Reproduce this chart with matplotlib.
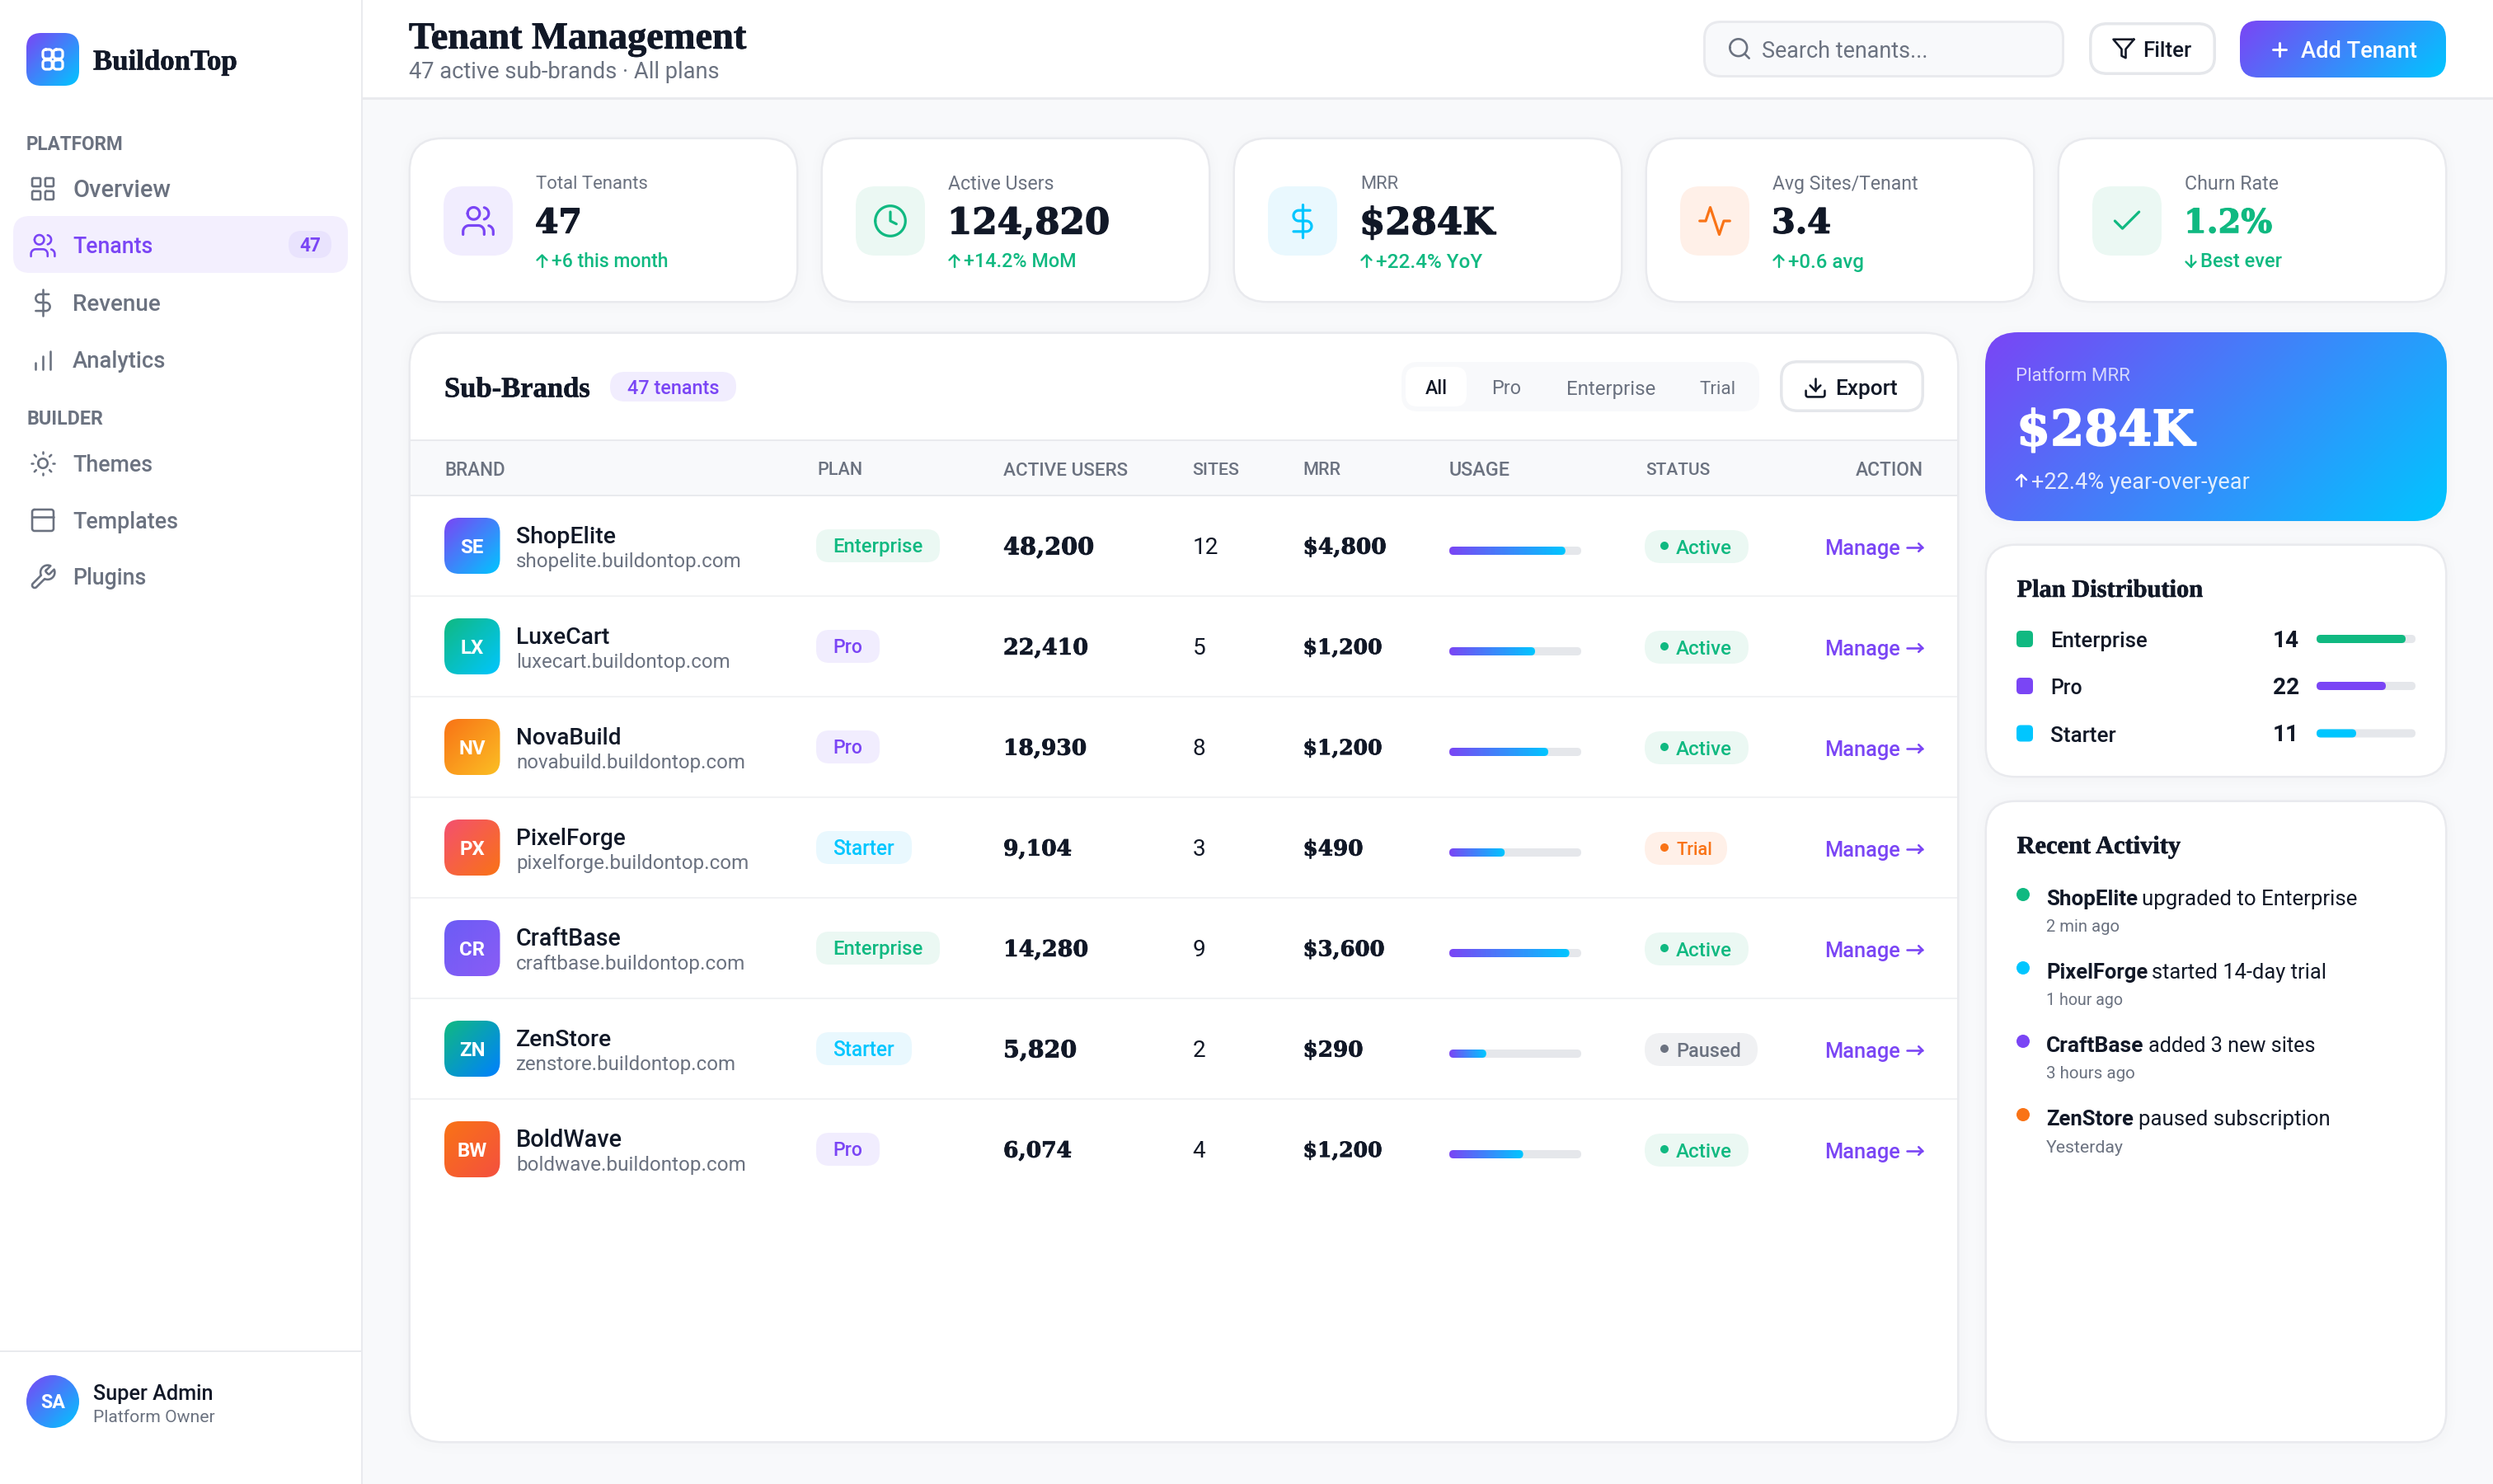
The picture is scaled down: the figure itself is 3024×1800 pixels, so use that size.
import re
import numpy as np
import matplotlib
matplotlib.use("Agg")
import matplotlib.pyplot as plt
import matplotlib.patheffects as pe
from matplotlib.patches import FancyBboxPatch, Rectangle, Circle, PathPatch
from matplotlib.path import Path
from matplotlib.colors import to_rgb

# ---------- data ----------
nav_platform = ["Overview", "Tenants", "Revenue", "Analytics"]
nav_builder = ["Themes", "Templates", "Plugins"]
kpi_labels = ["Total Tenants", "Active Users", "MRR", "Avg Sites/Tenant", "Churn Rate"]
kpi_values = ["47", "124,820", "$284K", "3.4", "1.2%"]
kpi_deltas = ["+6 this month", "+14.2% MoM", "+22.4% YoY", "+0.6 avg", "Best ever"]
kpi_delta_up = [True, True, True, True, False]
table_columns = ["BRAND", "PLAN", "ACTIVE USERS", "SITES", "MRR", "USAGE", "STATUS", "ACTION"]
filter_tabs = ["All", "Pro", "Enterprise", "Trial"]
brands = ["ShopElite", "LuxeCart", "NovaBuild", "PixelForge", "CraftBase", "ZenStore", "BoldWave"]
initials = ["SE", "LX", "NV", "PX", "CR", "ZN", "BW"]
domains = ["shopelite.buildontop.com", "luxecart.buildontop.com", "novabuild.buildontop.com",
           "pixelforge.buildontop.com", "craftbase.buildontop.com", "zenstore.buildontop.com",
           "boldwave.buildontop.com"]
plans = ["Enterprise", "Pro", "Pro", "Starter", "Enterprise", "Starter", "Pro"]
active_users = ["48,200", "22,410", "18,930", "9,104", "14,280", "5,820", "6,074"]
sites = [12, 5, 8, 3, 9, 2, 4]
mrr = ["$4,800", "$1,200", "$1,200", "$490", "$3,600", "$290", "$1,200"]
usage_pct = [88, 65, 75, 42, 91, 28, 56]
statuses = ["Active", "Active", "Active", "Trial", "Active", "Paused", "Active"]
plan_names = ["Enterprise", "Pro", "Starter"]
plan_counts = [14, 22, 11]
plan_fill_pct = [90, 70, 40]
activity_brands = ["ShopElite", "PixelForge", "CraftBase", "ZenStore"]
activity_texts = ["upgraded to Enterprise", "started 14-day trial", "added 3 new sites", "paused subscription"]
activity_times = ["2 min ago", "1 hour ago", "3 hours ago", "Yesterday"]

# ---------- styles ----------
SANS = "Roboto"
HEAD = "Liberation Serif"
NUM = "DejaVu Serif"
CAP = {SANS: .711, HEAD: .655, NUM: .729}
HEAVY = {HEAD: .018, NUM: .03}
INK = "#111827"; GRAY = "#6b7280"; LINE = "#e5e7eb"; BORDER = "#e9eaee"; BG = "#f8f9fb"
PURPLE = "#7a45f5"; CYAN = "#00c6ff"; GREEN = "#10b981"; ORANGE = "#f97316"
PLAN_STYLE = {"Enterprise": ("#ebf8f3", GREEN), "Pro": ("#f1edfe", PURPLE), "Starter": ("#e9f8fe", CYAN)}
STATUS_STYLE = {"Active": ("#ebf8f3", GREEN), "Trial": ("#fff0e8", ORANGE), "Paused": ("#f0f1f3", GRAY)}
AVATAR = [(PURPLE, CYAN), (GREEN, CYAN), (ORANGE, "#fbbf24"), ("#f4506f", ORANGE),
          ("#6c5cf5", "#8a5cf6"), (GREEN, "#0080ff"), (ORANGE, "#f4503f")]
TW = {  # measured text widths in the reference, px
    "BuildonTop": 175, "Tenant Management": 410, "47 active sub-brands · All plans": 375,
    "PLATFORM": 118, "BUILDER": 93, "Overview": 119, "Tenants": 97, "Revenue": 107, "Analytics": 113,
    "Themes": 97, "Templates": 128, "Plugins": 89, "Super Admin": 146, "Platform Owner": 148,
    "Search tenants...": 201, "Filter": 59, "Add Tenant": 141, "Sub-Brands": 177, "47 tenants": 111,
    "All": 27, "Export": 76, "BRAND": 74, "PLAN": 55, "ACTIVE USERS": 151, "SITES": 57, "MRR": 46,
    "USAGE": 74, "STATUS": 78, "ACTION": 82,
    "ShopElite": 120.5, "LuxeCart": 113.5, "NovaBuild": 127.6, "PixelForge": 132.6, "CraftBase": 127.6,
    "ZenStore": 116, "BoldWave": 129,
    "shopelite.buildontop.com": 274, "luxecart.buildontop.com": 259, "novabuild.buildontop.com": 278,
    "pixelforge.buildontop.com": 282.5, "craftbase.buildontop.com": 279, "zenstore.buildontop.com": 267,
    "boldwave.buildontop.com": 279,
    "Enterprise": 109, "Pro": 36, "Starter": 75, "Trial": 44, "Active": 68, "Paused": 79, "Manage": 92,
    "48,200": 110, "22,410": 103, "18,930": 101, "9,104": 83, "14,280": 103, "5,820": 89, "6,074": 83,
    "$4,800": 101, "$1,200": 96, "$490": 73, "$3,600": 99, "$290": 73,
    "Total Tenants": 136, "Active Users": 129, "Avg Sites/Tenant": 176, "Churn Rate": 114,
    "47": 57, "124,820": 197, "$284K": 164, "3.4": 72, "1.2%": 107,
    "+6 this month": 141, "+14.2% MoM": 137, "+22.4% YoY": 129, "+0.6 avg": 92, "Best ever": 99,
    "Platform MRR": 139, "+22.4% year-over-year": 265, "Plan Distribution": 226, "Recent Activity": 198.5,
    "upgraded to Enterprise": 262, "started 14-day trial": 212.7, "added 3 new sites": 203,
    "paused subscription": 231.6, "2 min ago": 89.5, "1 hour ago": 93.6, "3 hours ago": 108, "Yesterday": 94,
}
ACT_BOLD_W = {"ShopElite": 111, "PixelForge": 123, "CraftBase": 118.5, "ZenStore": 106}
STATUS_PILL_W = {"Active": 126, "Trial": 100, "Paused": 137}

# ---------- canvas ----------
W, H = 3024, 1800
fig = plt.figure(figsize=(W / 100, H / 100), dpi=100, facecolor=BG)
ax = fig.add_axes([0, 0, 1, 1])
ax.set_xlim(0, W); ax.set_ylim(H, 0); ax.axis("off"); ax.autoscale(False)
renderer = fig.canvas.get_renderer()
_z = [2]
def nz():
    _z[0] += 1
    return _z[0]

def T(x, yc, s, px=28, font=SANS, weight=400, color=INK, ha="left", alpha=1, w="auto"):
    t = ax.text(x, yc, s, fontsize=px * .72, family=font, weight=weight, color=color, ha=ha,
                va="baseline", alpha=alpha, zorder=nz())
    tw = TW.get(s) if w == "auto" else w
    if tw:
        px = px * tw / t.get_window_extent(renderer).width
        t.set_fontsize(px * .72)
    t.set_y(yc + CAP[font] / 2 * px)
    if font in HEAVY:
        t.set_path_effects([pe.withStroke(linewidth=HEAVY[font] * px * .72, foreground=color)])
    return t

def RR(x, y, w, h, r, fc="white", ec="none", lw=0):
    inset = lw / 2
    p = FancyBboxPatch((x + inset, y + inset), w - lw, h - lw,
                       boxstyle=f"round,pad=0,rounding_size={r}", fc=fc, ec=ec, lw=lw * .72, zorder=nz())
    ax.add_patch(p)
    return p

def shadow(x, y, w, h, r):
    for k in (10, 6, 3):
        RR(x - k, y - k + 2, w + 2 * k, h + 2 * k, r + k, fc=(0.1, 0.1, 0.2, 0.005))

def card(x, y, w, h, r):
    x -= 1.5; y -= 1.5; w += 3; h += 3
    shadow(x, y, w, h, r)
    return RR(x, y, w, h, r, fc="white", ec=BORDER, lw=2.5)

def grad(patch, x, y, w, h, c0, c1, angle=135):
    n = 160
    xs, ys = np.meshgrid(np.linspace(0, w, int(max(2, min(n, w)))), np.linspace(0, h, int(max(2, min(n, h)))))
    a = np.deg2rad(angle)
    dx, dy = np.sin(a), -np.cos(a)
    L = abs(w * dx) + abs(h * dy)
    t = np.clip(((xs - w / 2) * dx + (ys - h / 2) * dy) / L + .5, 0, 1)[..., None]
    img = (1 - t) * np.array(to_rgb(c0)) + t * np.array(to_rgb(c1))
    im = ax.imshow(img, extent=(x, x + w, y + h, y), origin="upper", aspect="auto",
                   interpolation="bilinear", zorder=nz())
    im.set_clip_path(patch)
    return im

def GR(x, y, w, h, r, c0=PURPLE, c1=CYAN, angle=135):
    p = RR(x, y, w, h, r, fc="none")
    grad(p, x, y, w, h, c0, c1, angle)

def rect(x, y, w, h, fc):
    ax.add_patch(Rectangle((x, y), w, h, fc=fc, lw=0, zorder=nz()))

def dot(x, y, r, fc):
    ax.add_patch(Circle((x, y), r, fc=fc, lw=0, zorder=nz()))

# ---------- icons (24-unit glyph paths) ----------
def arc_pts(x1, y1, rx, ry, large, sweep, x2, y2):
    if (x1, y1) == (x2, y2):
        return []
    dx, dy = (x1 - x2) / 2, (y1 - y2) / 2
    lam = dx ** 2 / rx ** 2 + dy ** 2 / ry ** 2
    if lam > 1:
        rx *= lam ** .5; ry *= lam ** .5
    num = max(0, rx ** 2 * ry ** 2 - rx ** 2 * dy ** 2 - ry ** 2 * dx ** 2)
    co = (num / (rx ** 2 * dy ** 2 + ry ** 2 * dx ** 2)) ** .5
    if large == sweep:
        co = -co
    cxp, cyp = co * rx * dy / ry, -co * ry * dx / rx
    cx, cy = cxp + (x1 + x2) / 2, cyp + (y1 + y2) / 2
    t1 = np.arctan2((dy - cyp) / ry, (dx - cxp) / rx)
    t2 = np.arctan2((-dy - cyp) / ry, (-dx - cxp) / rx)
    d = t2 - t1
    if sweep and d < 0:
        d += 2 * np.pi
    if not sweep and d > 0:
        d -= 2 * np.pi
    ts = t1 + d * np.linspace(0, 1, 24)[1:]
    return list(zip(cx + rx * np.cos(ts), cy + ry * np.sin(ts)))

def parse(d):
    toks = re.findall(r"[MmLlHhVvAaZz]|-?\d*\.?\d+", d)
    subs, cur, i, cmd = [], [], 0, None
    x = y = 0.0
    while i < len(toks):
        if toks[i].isalpha():
            cmd = toks[i]; i += 1
            if cmd in "Zz":
                cur.append(cur[0]); x, y = cur[-1]
                continue
        rel = cmd.islower(); c = cmd.upper()
        if c in "ML":
            nx, ny = float(toks[i]), float(toks[i + 1]); i += 2
            if rel: nx += x; ny += y
            if c == "M":
                if cur: subs.append(cur)
                cur = [(nx, ny)]; cmd = "l" if rel else "L"
            else:
                cur.append((nx, ny))
            x, y = nx, ny
        elif c == "H":
            nx = float(toks[i]); i += 1
            x = nx + x if rel else nx; cur.append((x, y))
        elif c == "V":
            ny = float(toks[i]); i += 1
            y = ny + y if rel else ny; cur.append((x, y))
        elif c == "A":
            rx, ry, _, la, sw, nx, ny = [float(v) for v in toks[i:i + 7]]; i += 7
            if rel: nx += x; ny += y
            cur += arc_pts(x, y, rx, ry, int(la), int(sw), nx, ny)
            x, y = nx, ny
    if cur:
        subs.append(cur)
    return subs

def circ(cx, cy, r):
    return f"M {cx-r} {cy} A {r} {r} 0 1 0 {cx+r} {cy} A {r} {r} 0 1 0 {cx-r} {cy} "

def rrect(x, y, w, h, r):
    return (f"M {x+r} {y} H {x+w-r} A {r} {r} 0 0 1 {x+w} {y+r} V {y+h-r} A {r} {r} 0 0 1 {x+w-r} {y+h} "
            f"H {x+r} A {r} {r} 0 0 1 {x} {y+h-r} V {y+r} A {r} {r} 0 0 1 {x+r} {y} Z ")

ICONS = {
    "grid": rrect(3, 3, 7, 7, 1) + rrect(14, 3, 7, 7, 1) + rrect(14, 14, 7, 7, 1) + rrect(3, 14, 7, 7, 1),
    "logo": rrect(4, 4, 7.5, 7.5, 2.4) + rrect(12.5, 4, 7.5, 7.5, 2.4) + rrect(12.5, 12.5, 7.5, 7.5, 2.4) + rrect(4, 12.5, 7.5, 7.5, 2.4),
    "users": "M 16 21 V 19 A 4 4 0 0 0 12 15 H 6 A 4 4 0 0 0 2 19 V 21 " + circ(9, 7, 4)
             + "M 22 21 V 19 A 4 4 0 0 0 19 15.13 M 16 3.13 A 4 4 0 0 1 16 10.88",
    "dollar": "M 12 1 V 23 M 17 5 H 9.5 A 3.5 3.5 0 0 0 9.5 12 H 14.5 A 3.5 3.5 0 0 1 14.5 19 H 6",
    "bars": "M 18 20 V 5 M 12 20 V 9 M 6 20 V 15",
    "sun": circ(12, 12, 4) + "M 12 2 V 4 M 12 20 V 22 M 4.93 4.93 L 6.34 6.34 M 17.66 17.66 L 19.07 19.07 "
           "M 2 12 H 4 M 20 12 H 22 M 6.34 17.66 L 4.93 19.07 M 19.07 4.93 L 17.66 6.34",
    "template": rrect(3, 3, 18, 18, 2) + "M 3 9 H 21",
    "wrench": "M 14.7 6.3 A 1 1 0 0 0 14.7 7.7 L 16.3 9.3 A 1 1 0 0 0 17.7 9.3 L 21.47 5.53 "
              "A 6 6 0 0 1 13.53 13.47 L 6.62 20.38 A 2.12 2.12 0 0 1 3.62 17.38 L 10.53 10.47 "
              "A 6 6 0 0 1 18.47 2.53 L 14.71 6.29 Z",
    "search": circ(11, 11, 8) + "M 21 21 L 16.65 16.65",
    "filter": "M 22 3 H 2 L 10 12.46 V 19 L 14 21 V 12.46 Z",
    "plus": "M 12 5 V 19 M 5 12 H 19",
    "up": "M 12 19 V 5 M 6 11 L 12 5 L 18 11",
    "down": "M 12 5 V 19 M 6 13 L 12 19 L 18 13",
    "right": "M 2 12 H 22 M 17 7 L 22 12 L 17 17",
    "download": "M 21 15 V 19 A 2 2 0 0 1 19 21 H 5 A 2 2 0 0 1 3 19 V 15 M 7 10 L 12 15 L 17 10 M 12 15 V 3",
    "clock": circ(12, 12, 10) + "M 12 6 V 12 L 16 14",
    "activity": "M 22 12 H 18 L 15 21 L 9 3 L 6 12 H 2",
    "check": "M 20 6 L 9 17 L 4 12",
}

def icon(name, cx, cy, s, color, lw):
    for pts in parse(ICONS[name]):
        pts = np.array(pts)
        verts = np.c_[cx + (pts[:, 0] - 12) * s, cy + (pts[:, 1] - 12) * s]
        ax.add_patch(PathPatch(Path(verts), fc="none", ec=color, lw=lw * .72, capstyle="round",
                               joinstyle="round", zorder=nz()))

# ---------- sidebar ----------
rect(0, 0, 439, H, "white")
rect(437.5, 0, 2.5, H, BORDER)
GR(32, 40, 64, 64, 18)
icon("logo", 64, 72, 1.5, "white", 3.2)
T(113, 73, "BuildonTop", 38, HEAD, "bold")
T(32, 173.5, "PLATFORM", 21, SANS, 600, GRAY)
nav_y = [229, 298, 367, 436]
nav_icons = ["grid", "users", "dollar", "bars"]
RR(16, 262, 406, 69, 20, fc="#f3effe")
RR(350, 280, 52, 33, 16, fc="#e9e3fd")
T(376, 297, "47", 24, SANS, 600, PURPLE, ha="center", w=26)
for name, y, ic in zip(nav_platform, nav_y, nav_icons):
    c = PURPLE if name == "Tenants" else GRAY
    T(88, y, name, 28, SANS, 500, c)
    icon(ic, 52, y, 1.44, c, 2.6)
T(32, 506.5, "BUILDER", 21, SANS, 600, GRAY)
for name, y, ic in zip(nav_builder, [562, 631, 700], ["sun", "template", "wrench"]):
    T(88, y, name, 28, SANS, 500, GRAY)
    icon(ic, 52, y, 1.44, GRAY, 2.6)
rect(0, 1637.5, 438, 2.5, BORDER)
c = Circle((64, 1700), 32, fc="none", lw=0, zorder=nz()); ax.add_patch(c)
grad(c, 32, 1668, 64, 64, PURPLE, CYAN)
T(64, 1700, "SA", 24, SANS, 700, "white", ha="center", w=30)
T(113, 1689, "Super Admin", 26, SANS, 500, INK)
T(113, 1717, "Platform Owner", 22, SANS, 400, GRAY)

# ---------- header ----------
rect(440, 0, W - 440, 118, "white")
rect(440, 118, W - 440, 2.5, BORDER)
T(496, 43.6, "Tenant Management", 46, HEAD, "bold")
T(496, 85, "47 active sub-brands · All plans", 28, SANS, 400, GRAY)
RR(2066, 25, 438, 69, 20, fc=BG, ec=BORDER, lw=3)
icon("search", 2110, 59, 1.3, GRAY, 2.6)
T(2137, 60, "Search tenants...", 28, SANS, 400, GRAY)
RR(2534, 27, 154, 64, 20, fc="white", ec=LINE, lw=3.5)
icon("filter", 2576, 59, 1.25, INK, 2.6)
T(2599, 60, "Filter", 27, SANS, 500, INK)
GR(2717, 25, 250, 69, 22)
icon("plus", 2765, 60, 1.17, "white", 3)
T(2791, 60, "Add Tenant", 28, SANS, 500, "white")

# ---------- KPI cards ----------
kpi_x = [497, 997, 1497, 1997, 2497]
kpi_tints = ["#f1edfe", "#ebf8f3", "#e9f8fe", "#fff0e8", "#ebf8f3"]
kpi_icons = [("users", PURPLE), ("clock", GREEN), ("dollar", CYAN), ("activity", ORANGE), ("check", GREEN)]
for x, lab, val, dlt, up, tint, (ic, ic_c) in zip(kpi_x, kpi_labels, kpi_values, kpi_deltas, kpi_delta_up, kpi_tints, kpi_icons):
    card(x, 168, 470, 198, 40)
    RR(x + 41, 226, 84, 84, 24, fc=tint)
    icon(ic, x + 83, 268, 1.83, ic_c, 3.2)
    T(x + 153, 221.5, lab, 24, SANS, 400, GRAY)
    T(x + 152, 267.6, val, 42, NUM, "bold", GREEN if lab == "Churn Rate" else INK)
    icon("up" if up else "down", x + 160.5, 316.5, 1.0, GREEN, 2.4)
    T(x + 172, 316, dlt, 24, SANS, 500, GREEN)

# ---------- table card ----------
TX0, TX1 = 497, 2375
card(TX0, 404, TX1 - TX0, 1345, 40)
T(539, 470, "Sub-Brands", 36, HEAD, "bold")
RR(740, 451, 153, 36, 18, fc="#f1edfe")
T(761, 470, "47 tenants", 23, SANS, 500, PURPLE)
RR(1700, 439, 434, 60, 20, fc=BG)
RR(1705, 445, 74, 48, 14, fc="white")
tab_x = [1729, 1809, 1900, 2061]
tab_w = [27, 36, 108, 44]
for i, (tab, x, tw) in enumerate(zip(filter_tabs, tab_x, tab_w)):
    T(x, 470, tab, 24, SANS, 500 if i == 0 else 400, INK if i == 0 else GRAY, w=tw)
RR(2159, 437, 175, 63, 20, fc="white", ec=LINE, lw=3.5)
icon("download", 2202, 470, 1.27, INK, 2.6)
T(2226, 470, "Export", 27, SANS, 500, INK)

rect(TX0 + 1, 534, TX1 - TX0 - 2, 67, BG)
rect(TX0 + 1, 532.5, TX1 - TX0 - 2, 2.5, BORDER)
rect(TX0 + 1, 599.5, TX1 - TX0 - 2, 2.5, BORDER)
col_x = [539, 991, 1217, 1446.6, 1580.5, 1758, 1996, 2332.5]
for name, x in zip(table_columns, col_x):
    T(x, 568.7, name, 21, SANS, 500, GRAY, ha="right" if name == "ACTION" else "left")

ROW0, STEP = 662, 122
BAR_X, BAR_W = 1758, 160
for i in range(len(brands)):
    y = ROW0 + i * STEP
    if i < len(brands) - 1:
        rect(TX0 + 1, y + 60, TX1 - TX0 - 2, 2, "#f1f2f4")
    GR(539, y - 34, 67.5, 68, 18, *AVATAR[i])
    T(572.7, y, initials[i], 24, SANS, 700, "white", ha="center")
    T(626, y - 13, brands[i], 28, SANS, 500, INK)
    T(626, y + 17.5, domains[i], 24, SANS, 400, GRAY)
    # plan pill
    bg, fg = PLAN_STYLE[plans[i]]
    pw = TW[plans[i]] + 41
    RR(990, y - 20, pw, 40, 16, fc=bg)
    T(1010.6, y, plans[i], 24, SANS, 500, fg)
    # numbers
    T(1217, y, active_users[i], 30, NUM, "bold", INK)
    T(1446.6, y, str(sites[i]), 28, SANS, 400, INK)
    T(1580.5, y, mrr[i], 30, NUM, "bold", INK)
    # usage
    RR(BAR_X, y + 1, BAR_W, 10, 5, fc=LINE)
    GR(BAR_X, y + 1, BAR_W * usage_pct[i] / 100, 10, 5, PURPLE, CYAN, 90)
    # status
    bg, fg = STATUS_STYLE[statuses[i]]
    RR(1995, y - 19, STATUS_PILL_W[statuses[i]], 40, 20, fc=bg)
    dot(2019, y, 5, fg)
    T(2033, y + 1.5, statuses[i], 24, SANS, 500, fg)
    # action
    T(2213, y + 2, "Manage", 26, SANS, 500, PURPLE)
    icon("right", 2322.5, y + 2, 0.95, PURPLE, 2.6)

# ---------- right column ----------
shadow(2408, 403, 560, 229, 40)
GR(2408, 403, 560, 229, 40)
T(2445, 454, "Platform MRR", 24, SANS, 400, "white", alpha=.75)
T(2446, 518.5, "$284K", 60, NUM, "bold", "white", w=216)
icon("up", 2452, 583, 1.0, "white", 2.4)
T(2464, 583, "+22.4% year-over-year", 26, SANS, 400, "white", alpha=.85)

card(2409, 661, 558, 281, 36)
T(2446.5, 714, "Plan Distribution", 30, HEAD, "bold")
plan_y = [775, 832, 889.5]
plan_c = [GREEN, PURPLE, CYAN]
plan_lw = [117.5, 38.6, 79.7]
for name, n, pct, y, col, lw_ in zip(plan_names, plan_counts, plan_fill_pct, plan_y, plan_c, plan_lw):
    RR(2446, y - 10, 20, 20, 5, fc=col)
    T(2487, y + 1, name, 26, SANS, 500, INK, w=lw_)
    T(2789, y, str(n), 28, SANS, 700, INK, ha="right", w=None)
    RR(2810, y - 5, 120, 10, 5, fc=LINE)
    RR(2810, y - 5, 120 * pct / 100, 10, 5, fc=col)

card(2409, 972, 558, 777, 36)
T(2446.5, 1025, "Recent Activity", 30, HEAD, "bold")
act_c = [GREEN, CYAN, PURPLE, ORANGE]
for i, (b, txt, tm, col) in enumerate(zip(activity_brands, activity_texts, activity_times, act_c)):
    y = 1089 + i * 89
    dot(2454, y - 4, 8, col)
    T(2482, y, b, 26, SANS, 600, INK, w=ACT_BOLD_W[b])
    T(2482 + ACT_BOLD_W[b] + 5.5, y, txt, 26, SANS, 400, INK)
    T(2482, y + 34, tm, 22, SANS, 400, GRAY)

fig.savefig("out.png", dpi=100, facecolor=fig.get_facecolor())
